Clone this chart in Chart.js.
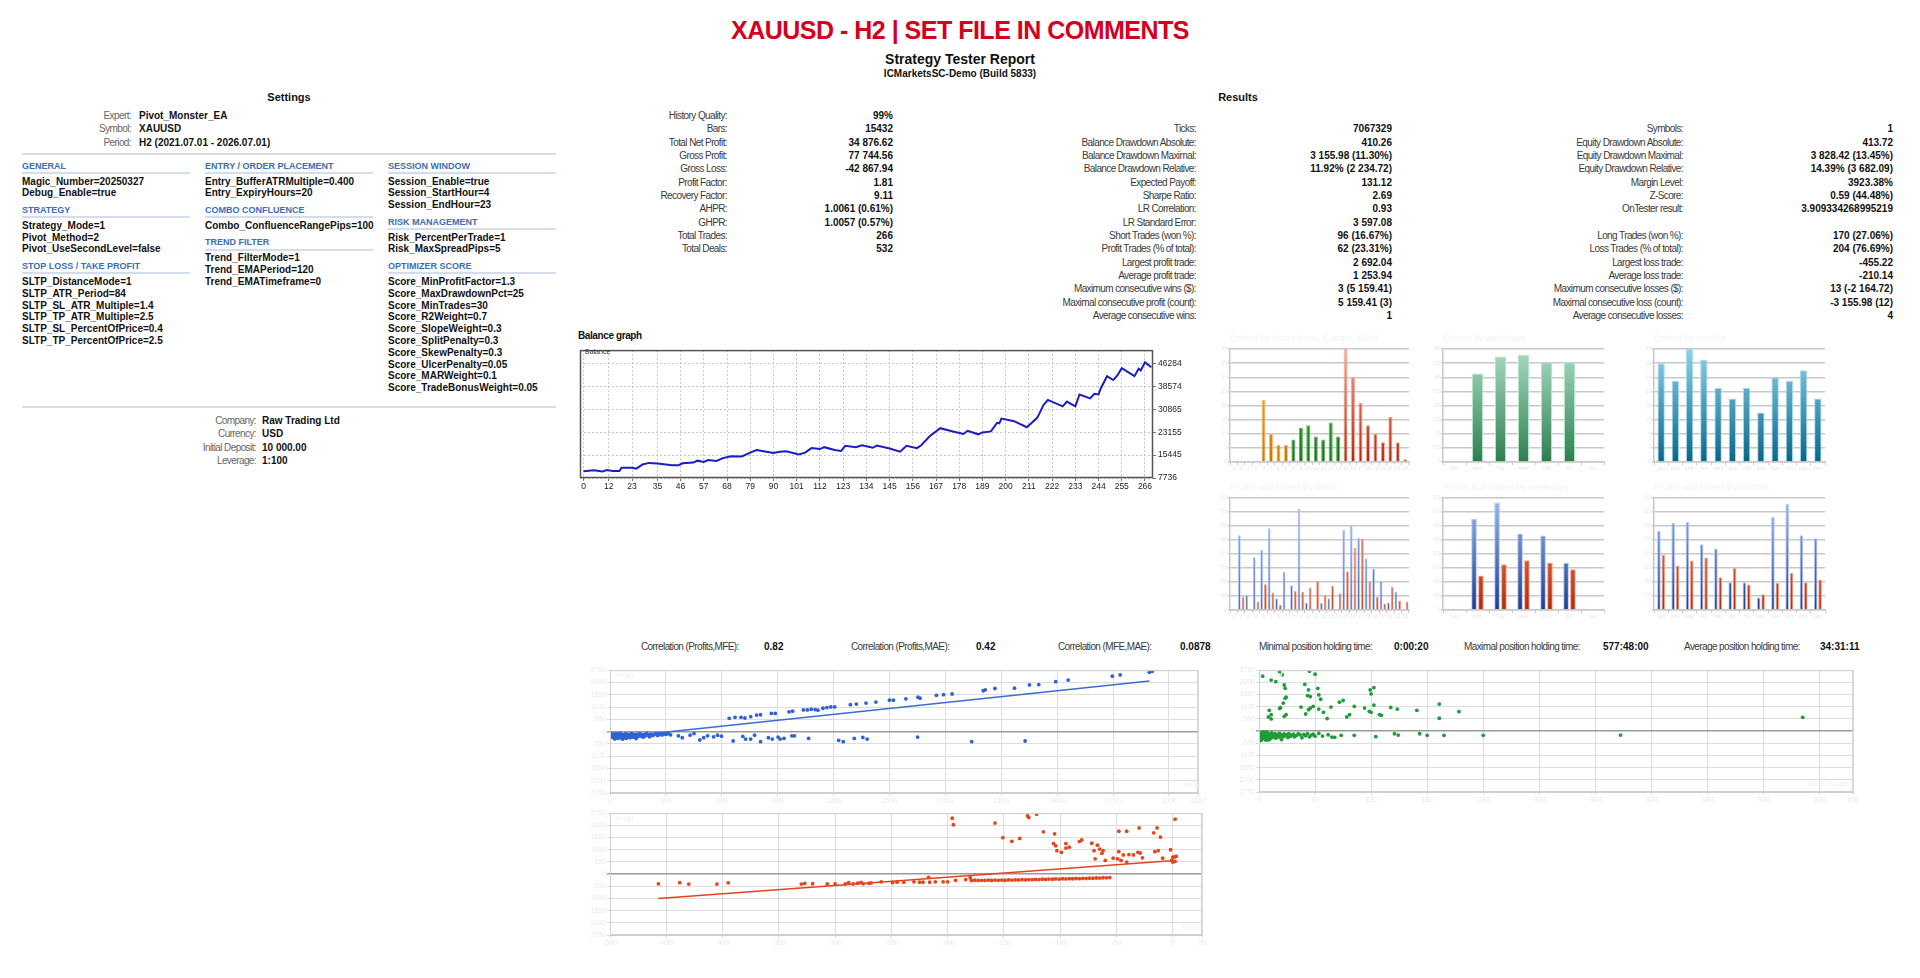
<!DOCTYPE html>
<html>
<head>
<meta charset="utf-8">
<title>Strategy Tester Report</title>
<script src="https://cdn.jsdelivr.net/npm/chart.js@4.4.1/dist/chart.umd.min.js"></script>
<style>
  html, body { margin: 0; padding: 0; background: #fff; }
  body { width: 1920px; height: 978px; position: relative; overflow: hidden;
         font-family: "Liberation Sans", Arial, sans-serif; }
  canvas { position: absolute; }
  .rule { position: absolute; height: 2px; }
</style>
</head>
<body>
<script>
// ---- report text ----
const expertRows = [['Expert:', 'Pivot_Monster_EA'], ['Symbol:', 'XAUUSD'], ['Period:', 'H2 (2021.07.01 - 2026.07.01)']];
const accountRows = [['Company:', 'Raw Trading Ltd'], ['Currency:', 'USD'], ['Initial Deposit:', '10 000.00'], ['Leverage:', '1:100']];

const settingsColumns = [
  [['GENERAL', ['Magic_Number=20250327', 'Debug_Enable=true']],
   ['STRATEGY', ['Strategy_Mode=1', 'Pivot_Method=2', 'Pivot_UseSecondLevel=false']],
   ['STOP LOSS / TAKE PROFIT', ['SLTP_DistanceMode=1', 'SLTP_ATR_Period=84', 'SLTP_SL_ATR_Multiple=1.4',
     'SLTP_TP_ATR_Multiple=2.5', 'SLTP_SL_PercentOfPrice=0.4', 'SLTP_TP_PercentOfPrice=2.5']]],
  [['ENTRY / ORDER PLACEMENT', ['Entry_BufferATRMultiple=0.400', 'Entry_ExpiryHours=20']],
   ['COMBO CONFLUENCE', ['Combo_ConfluenceRangePips=100']],
   ['TREND FILTER', ['Trend_FilterMode=1', 'Trend_EMAPeriod=120', 'Trend_EMATimeframe=0']]],
  [['SESSION WINDOW', ['Session_Enable=true', 'Session_StartHour=4', 'Session_EndHour=23']],
   ['RISK MANAGEMENT', ['Risk_PercentPerTrade=1', 'Risk_MaxSpreadPips=5']],
   ['OPTIMIZER SCORE', ['Score_MinProfitFactor=1.3', 'Score_MaxDrawdownPct=25', 'Score_MinTrades=30',
     'Score_R2Weight=0.7', 'Score_SlopeWeight=0.3', 'Score_SplitPenalty=0.3', 'Score_SkewPenalty=0.3',
     'Score_UlcerPenalty=0.05', 'Score_MARWeight=0.1', 'Score_TradeBonusWeight=0.05']]]
];

const resultsA = [['History Quality:', '99%'], ['Bars:', '15432'], ['Total Net Profit:', '34 876.62'],
  ['Gross Profit:', '77 744.56'], ['Gross Loss:', '-42 867.94'], ['Profit Factor:', '1.81'],
  ['Recovery Factor:', '9.11'], ['AHPR:', '1.0061 (0.61%)'], ['GHPR:', '1.0057 (0.57%)'],
  ['Total Trades:', '266'], ['Total Deals:', '532']];
const resultsB = [null, ['Ticks:', '7067329'], ['Balance Drawdown Absolute:', '410.26'],
  ['Balance Drawdown Maximal:', '3 155.98 (11.30%)'], ['Balance Drawdown Relative:', '11.92% (2 234.72)'],
  ['Expected Payoff:', '131.12'], ['Sharpe Ratio:', '2.69'], ['LR Correlation:', '0.93'],
  ['LR Standard Error:', '3 597.08'], ['Short Trades (won %):', '96 (16.67%)'],
  ['Profit Trades (% of total):', '62 (23.31%)'], ['Largest profit trade:', '2 692.04'],
  ['Average profit trade:', '1 253.94'], ['Maximum consecutive wins ($):', '3 (5 159.41)'],
  ['Maximal consecutive profit (count):', '5 159.41 (3)'], ['Average consecutive wins:', '1']];
const resultsC = [null, ['Symbols:', '1'], ['Equity Drawdown Absolute:', '413.72'],
  ['Equity Drawdown Maximal:', '3 828.42 (13.45%)'], ['Equity Drawdown Relative:', '14.39% (3 682.09)'],
  ['Margin Level:', '3923.38%'], ['Z-Score:', '0.59 (44.48%)'], ['OnTester result:', '3.909334268995219'],
  null, ['Long Trades (won %):', '170 (27.06%)'], ['Loss Trades (% of total):', '204 (76.69%)'],
  ['Largest loss trade:', '-455.22'], ['Average loss trade:', '-210.14'],
  ['Maximum consecutive losses ($):', '13 (-2 164.72)'], ['Maximal consecutive loss (count):', '-3 155.98 (12)'],
  ['Average consecutive losses:', '4']];

const correlationRow = [['Correlation (Profits,MFE):', '0.82'], ['Correlation (Profits,MAE):', '0.42'], ['Correlation (MFE,MAE):', '0.0878']];
const holdingRow = [['Minimal position holding time:', '0:00:20'], ['Maximal position holding time:', '577:48:00'], ['Average position holding time:', '34:31:11']];

// ---- balance graph ----
const balanceTrades = [0, 5, 9, 11, 14, 17, 18, 23, 25, 28, 31, 35, 42, 45, 47, 52, 54, 57, 59, 63,
  66, 70, 75, 79, 82, 84, 90, 93, 96, 102, 105, 108, 112, 114, 119, 122, 124, 129, 132, 137,
  139, 145, 150, 153, 158, 160, 164, 169, 175, 180, 182, 187, 189, 193, 196, 197, 198, 204, 210, 212,
  215, 218, 220, 227, 229, 233, 235, 240, 242, 244, 245, 248, 251, 253, 255, 261, 263, 264, 266, 269];
const balanceValues = [10000, 10335, 9902, 10444, 10119, 10119, 11202, 11202, 10877, 12285,
  12826, 12610, 12068, 12068, 12718, 12935, 13584, 13151, 13801, 13476,
  14451, 15100, 14992, 16292, 17158, 16941, 16183, 16617, 16725, 15642,
  16292, 17808, 17483, 18133, 17158, 16833, 18566, 18133, 18783, 17916,
  18674, 17700, 16617, 18566, 17808, 18783, 21815, 24523, 23440, 22573,
  23656, 22465, 23115, 23440, 26364, 26147, 27772, 26905, 24848, 26147,
  28097, 32429, 34053, 31887, 33511, 31887, 35894, 34594, 36111, 35894,
  37843, 42067, 40767, 42392, 44774, 42067, 44557, 44016, 46724, 45100];
const balanceXTicks = [0, 12, 23, 35, 46, 57, 68, 79, 90, 101, 112, 123, 134, 145, 156, 167, 178, 189, 200, 211, 222, 233, 244, 255, 266];
const balanceYTicks = [7736, 15445, 23155, 30865, 38574, 46284];

// ---- entries / profits distributions ----
const hourLabels = ['0', '1', '2', '3', '4', '5', '6', '7', '8', '9', '10', '11', '12', '13', '14', '15', '16', '17', '18', '19', '20', '21', '22', '23'];
const weekdayLabels = ['Sun', 'Mon', 'Tue', 'Wed', 'Thu', 'Fri', 'Sat'];
const monthLabels = ['Jan', 'Feb', 'Mar', 'Apr', 'May', 'Jun', 'Jul', 'Aug', 'Sep', 'Oct', 'Nov', 'Dec'];

const entriesByHour = [0, 0, 0, 0, 22, 10, 6, 6, 8, 12, 13, 9, 8, 14, 9, 40, 30, 21, 13, 10, 7, 16, 7, 1];
const entriesByWeekday = [0, 47, 56, 57, 53, 53, 0];
const entriesByMonth = [28, 23, 32, 29, 21, 18, 21, 14, 24, 23, 26, 18];

const profitByHour = [0, 6680, 1330, 4710, 5380, 7310, 1040, 3410, 2200, 9050, 630, 0, 630, 1040, 0, 7160, 7580, 6450, 4630, 3680, 2600, 660, 1610, 0];
const lossByHour = [0, 1190, 0, 750, 2290, 1560, 440, 110, 1700, 1610, 2000, 2600, 1330, 2160, 1500, 3460, 5550, 6390, 2540, 1190, 580, 2080, 840, 750];
const profitByWeekday = [0, 16300, 19200, 13650, 13300, 8450, 0];
const lossByWeekday = [0, 6180, 8150, 8900, 8500, 7280, 0];
const profitByMonth = [7755, 8553, 8676, 6449, 6036, 2736, 2736, 1238, 9158, 10464, 7343, 7054];
const lossByMonth = [5404, 4359, 4868, 5156, 3218, 4125, 2516, 1554, 2640, 3658, 2736, 2984];

// ---- scatter: profit vs MFE ----
const mfeWinners = [[640, 595], [671, 639], [703, 639], [724, 609], [755, 668], [787, 740], [808, 755], [866, 813],
  [887, 813], [961, 885], [980, 914], [1038, 972], [1059, 972], [1080, 1001], [1101, 987], [1116, 958],
  [1143, 1045], [1164, 1074], [1185, 1103], [1206, 1103], [1290, 1204], [1322, 1234], [1374, 1277],
  [1427, 1321], [1500, 1408], [1521, 1408], [1588, 1466], [1653, 1538], [1664, 1495], [1752, 1625],
  [1790, 1654], [1836, 1683], [2003, 1829], [2014, 1872], [2066, 1930], [2171, 1945], [2251, 2090],
  [2301, 2104], [2392, 2235], [2459, 2307], [2696, 2481], [2738, 2540], [2895, 2656], [2910, 2699]];
const mfeLosers = [[5, -210], [8, -150], [12, -95], [15, -260], [18, -180], [22, -120], [25, -330], [28, -210],
  [32, -90], [35, -160], [38, -240], [42, -300], [45, -130], [48, -200], [52, -80], [55, -270], [58, -170],
  [62, -220], [65, -110], [68, -340], [72, -190], [75, -250], [78, -140], [82, -210], [85, -90], [88, -300],
  [92, -170], [95, -230], [100, -120], [104, -200], [108, -280], [112, -150], [116, -90], [120, -210],
  [125, -250], [130, -130], [135, -180], [140, -310], [145, -110], [150, -220], [155, -160], [160, -90],
  [165, -200], [172, -140], [178, -250], [185, -120], [190, -190], [198, -80], [205, -160], [212, -230],
  [220, -110], [228, -180], [235, -140], [245, -100], [255, -170], [262, -90], [270, -130], [280, -150],
  [290, -100], [300, -120], [312, -95], [325, -145], [367, -189], [388, -276], [430, -160], [451, -87],
  [482, -377], [503, -276], [524, -189], [556, -232], [577, -160], [598, -203], [661, -421], [713, -218],
  [728, -334], [755, -334], [776, -160], [808, -450], [850, -276], [871, -334], [902, -247], [913, -334],
  [934, -305], [976, -189], [990, -189], [1066, -305], [1227, -392], [1252, -450], [1311, -305],
  [1357, -261], [1380, -334], [1651, -247], [1941, -450], [2228, -421]];
const mfeTrend = [[0, -290], [2895, 2264]];

// ---- scatter: profit vs MAE ----
const maeWinners = [[-196, 2523], [-195, 2229], [-158, 2303], [-151, 1643], [-143, 1481], [-136, 1613],
  [-129, 2640], [-128, 2552], [-121, 2699], [-115, 1907], [-105, 1819], [-106, 1379], [-104, 1276],
  [-103, 1056], [-99, 983], [-95, 1379], [-95, 1173], [-92, 1217], [-83, 1467], [-81, 1540], [-72, 1393],
  [-70, 1056], [-69, 689], [-67, 1305], [-65, 1129], [-63, 939], [-62, 1056], [-60, 616], [-53, 719],
  [-49, 689], [-48, 1936], [-48, 1012], [-46, 616], [-44, 865], [-41, 1936], [-41, 543], [-39, 880],
  [-35, 865], [-31, 983], [-30, 2083], [-29, 953], [-27, 733], [-17, 1863], [-16, 1012], [-14, 2083],
  [-13, 1056], [-11, 1672], [-9, 719], [-2, 1100], [-1, 616], [0, 763], [0, 543], [1, 763], [2, 2479],
  [2, 572], [3, 807]];
const maeLosers = [[-457, -440], [-438, -385], [-430, -450], [-405, -450], [-395, -395], [-330, -450],
  [-327, -420], [-320, -435], [-307, -445], [-300, -440], [-291, -445], [-288, -385], [-284, -445],
  [-280, -410], [-277, -370], [-275, -440], [-270, -415], [-268, -395], [-259, -350], [-249, -380],
  [-245, -365], [-239, -365], [-230, -350], [-225, -365], [-222, -365], [-217, -147], [-216, -365],
  [-211, -350], [-204, -350], [-200, -350], [-193, -279], [-184, -249], [-180, -161],
  [-179, -290], [-176, -275], [-173, -290], [-170, -280], [-167, -285], [-164, -275], [-161, -285],
  [-158, -270], [-155, -280], [-152, -270], [-149, -278], [-146, -262], [-143, -270], [-140, -258],
  [-137, -265], [-134, -250], [-131, -258], [-128, -245], [-125, -252], [-122, -240], [-119, -246],
  [-116, -232], [-113, -240], [-110, -225], [-107, -232], [-104, -218], [-101, -225], [-98, -210],
  [-95, -218], [-92, -205], [-89, -210], [-86, -198], [-83, -205], [-80, -190], [-77, -196], [-74, -182],
  [-71, -188], [-68, -175], [-65, -180], [-62, -165], [-59, -170], [-56, -158]];
const maeTrend = [[-457, -1100], [1, 616]];

// ---- scatter: profit vs holding time ----
const holdWinners = [[4, 2482], [13, 2304], [22, 2676], [25, 2542], [18, 2230], [27, 2081], [28, 1932],
  [11, 936], [13, 743], [10, 639], [13, 550], [22, 1026], [23, 1055], [26, 1264], [28, 1486], [29, 1531],
  [27, 669], [29, 743], [45, 1085], [49, 2111], [53, 1858], [52, 1605], [55, 1561], [54, 2705], [60, 2572],
  [50, 773], [53, 966], [55, 1041], [58, 1115], [63, 1932], [64, 1635], [66, 1442], [64, 996], [69, 847],
  [73, 565], [77, 1085], [86, 1308], [90, 1382], [94, 639], [97, 743], [102, 1115], [113, 1041], [118, 892],
  [119, 1858], [120, 1680], [123, 1962], [123, 1174], [120, 847], [129, 743], [131, 714], [141, 1070],
  [148, 996], [169, 936], [193, 1219], [193, 580], [214, 877], [582, 624]];
const holdLosers = [[0.5, -220], [1, -150], [1.5, -300], [2, -90], [2.5, -380], [3, -180], [3.5, -250],
  [4, -120], [4.5, -330], [5, -200], [5.5, -60], [6, -280], [7, -160], [7.5, -410], [8, -230], [9, -100],
  [9.5, -310], [10, -190], [11, -260], [11.5, -140], [12, -350], [13, -210], [13.5, -80], [14, -290],
  [15, -170], [16, -240], [17, -120], [18, -320], [19, -200], [20, -150], [21, -270], [22, -100],
  [23, -220], [24, -380], [25, -170], [26, -250], [27, -130], [28, -200], [30, -160], [31, -290],
  [32, -110], [34, -230], [35, -180], [37, -140], [38, -260], [40, -200], [42, -120], [44, -170],
  [46, -300], [48, -150], [50, -210], [52, -110], [54, -260], [56, -180], [58, -140], [60, -230],
  [0.3, -440], [2.2, -420], [6.5, -360], [10.5, -400], [3.2, -50], [8.5, -40],
  [64, -104], [68, -223], [74, -164], [78, -268], [81, -282], [88, -193], [102, -193], [125, -253],
  [145, -119], [149, -178], [172, -119], [180, -193], [198, -193], [240, -193], [387, -178]];

// ---- helpers ----
function T(x, y, s, o = {}) {
  const d = document.createElement('div');
  d.textContent = s;
  const size = o.size || 10, lh = o.lh || Math.round(size * 1.2);
  Object.assign(d.style, {
    position: 'absolute', whiteSpace: 'nowrap', fontSize: size + 'px', lineHeight: lh + 'px',
    top: (y - lh / 2) + 'px', fontWeight: o.bold ? 'bold' : 'normal', color: o.color || '#111',
    letterSpacing: (o.ls || 0) + 'px'
  });
  if (o.align === 'right') d.style.right = (1920 - x) + 'px';
  else if (o.align === 'center') { d.style.left = (x - 400) + 'px'; d.style.width = '800px'; d.style.textAlign = 'center'; }
  else d.style.left = x + 'px';
  document.body.appendChild(d);
}
const LBL = { color: '#3a3a3a', ls: -0.6 };
const VAL = { bold: true, color: '#111' };

function rule(x, y, w, color) {
  const r = document.createElement('div');
  r.className = 'rule';
  Object.assign(r.style, { left: x + 'px', top: y + 'px', width: w + 'px', background: color });
  document.body.appendChild(r);
}

function canvasAt(plot, pad) {
  const c = document.createElement('canvas');
  const w = plot.w + pad.l + pad.r, h = plot.h + pad.t + pad.b;
  c.width = w; c.height = h;
  Object.assign(c.style, { left: (plot.x - pad.l) + 'px', top: (plot.y - pad.t) + 'px', width: w + 'px', height: h + 'px' });
  document.body.appendChild(c);
  return c;
}

const frame = {
  id: 'frame',
  afterDraw(chart, args, opts) {
    const a = chart.chartArea, g = chart.ctx;
    g.save();
    g.strokeStyle = opts.color; g.lineWidth = opts.width;
    g.strokeRect(a.left + 0.5, a.top + 0.5, a.right - a.left - 1, a.bottom - a.top - 1);
    g.restore();
  }
};

function vgrad(top, bottom) {
  return (ctx) => {
    const a = ctx.chart.chartArea;
    if (!a) return bottom;
    const g = ctx.chart.ctx.createLinearGradient(0, a.top, 0, a.bottom);
    g.addColorStop(0, top); g.addColorStop(1, bottom);
    return g;
  };
}

Chart.defaults.font.family = '"Liberation Sans", Arial, sans-serif';

// left/bottom space is taken by the axes, top/right by padding
function baseOptions(pad, frameColor) {
  return {
    responsive: false, animation: false, devicePixelRatio: 1, events: [],
    layout: { autoPadding: false, padding: { left: 0, top: pad.t, right: pad.r, bottom: 0 } },
    plugins: { legend: { display: false }, tooltip: { enabled: false }, frame: { color: frameColor, width: 1 } }
  };
}

// ---- headings ----
T(960, 30, 'XAUUSD - H2 | SET FILE IN COMMENTS', { size: 25, bold: true, color: '#d6001c', ls: -0.5, align: 'center', lh: 30 });
T(960, 59, 'Strategy Tester Report', { size: 14, bold: true, align: 'center', lh: 16 });
T(960, 74, 'ICMarketsSC-Demo (Build 5833)', { size: 10, bold: true, align: 'center' });
T(289, 97, 'Settings', { size: 11, bold: true, align: 'center' });
T(1238, 97, 'Results', { size: 11, bold: true, align: 'center' });

// ---- settings block ----
expertRows.forEach((r, i) => {
  T(131, 116 + i * 13.4, r[0], Object.assign({ align: 'right' }, LBL, { color: '#666' }));
  T(139, 116 + i * 13.4, r[1], VAL);
});
rule(22, 153, 534, '#dcdcdc');
const colX = [22, 205, 388];
settingsColumns.forEach((col, ci) => {
  let y = 166;
  col.forEach((grp, gi) => {
    if (gi > 0) y += 17;
    T(colX[ci], y, grp[0], { size: 9, bold: true, color: '#3b6db5' });
    rule(colX[ci], y + 6, 168, '#d3dded');
    y += 15.5;
    grp[1].forEach((line, li) => {
      if (li > 0) y += 11.8;
      T(colX[ci], y, line, VAL);
    });
  });
});
rule(22, 406, 534, '#dcdcdc');
accountRows.forEach((r, i) => {
  T(256, 421 + i * 13.4, r[0], Object.assign({ align: 'right' }, LBL, { color: '#666' }));
  T(262, 421 + i * 13.4, r[1], VAL);
});

// ---- results block ----
[[resultsA, 727, 893], [resultsB, 1196, 1392], [resultsC, 1683, 1893]].forEach(([rows, lx, vx]) => {
  rows.forEach((r, i) => {
    if (!r) return;
    const y = 116 + i * 13.33;
    T(lx, y, r[0], Object.assign({ align: 'right' }, LBL));
    T(vx, y, r[1], Object.assign({ align: 'right' }, VAL));
  });
});

// ---- balance graph ----
T(578, 336, 'Balance graph', { size: 10, bold: true, ls: -0.4 });
{
  const plot = { x: 580, y: 346, w: 573, h: 132 }, pad = { l: 3, t: 3, r: 42, b: 16 };
  const opts = baseOptions(pad, '#555');
  opts.layout.padding.left = pad.l;
  opts.layout.padding.right = 0;   // right side is the y axis here
  opts.plugins.frame.width = 1.5;
  opts.scales = {
    x: {
      type: 'linear', min: -1.66, max: 269.8,
      afterBuildTicks: s => { s.ticks = balanceXTicks.map(v => ({ value: v })); },
      afterFit: s => { s.height = pad.b; },
      ticks: { color: '#222', font: { size: 8.5 }, maxRotation: 0, autoSkip: false, padding: 1, callback: v => String(v) },
      grid: { color: '#c6c6c6', tickLength: 3, tickColor: '#777' },
      border: { display: false, dash: [2, 2] }
    },
    y: {
      position: 'right', min: 7736, max: 50860,
      afterBuildTicks: s => { s.ticks = balanceYTicks.map(v => ({ value: v })); },
      afterFit: s => { s.width = pad.r; },
      ticks: { color: '#222', font: { size: 8.5 }, padding: 2, callback: v => String(v) },
      grid: { color: '#c6c6c6', tickLength: 3, tickColor: '#777' },
      border: { display: false, dash: [2, 2] }
    }
  };
  new Chart(canvasAt(plot, pad), {
    type: 'line',
    data: { datasets: [{ data: balanceTrades.map((t, i) => ({ x: t, y: balanceValues[i] })), borderColor: '#1c1cc0', borderWidth: 2, pointRadius: 0, tension: 0 }] },
    options: opts, plugins: [frame]
  });
  T(585, 352, 'Balance', { size: 7, color: '#333' });
}

// ---- small bar charts ----
function barChart(plot, labels, datasets, max, step, title) {
  const pad = { l: 10, t: 1, r: 2, b: 8 };
  const opts = baseOptions(pad, 'rgba(0,0,0,0)');
  opts.scales = {
    x: {
      afterFit: s => { s.height = pad.b; },
      ticks: { color: '#e6e6e6', font: { size: 5 }, maxRotation: 0, autoSkip: false, padding: 1 },
      grid: { display: true, drawOnChartArea: false, tickLength: 3, color: '#c8c8c8' },
      border: { color: '#c8c8c8', width: 1.5 }
    },
    y: {
      min: 0, max: max,
      afterFit: s => { s.width = pad.l; },
      ticks: { stepSize: step, color: '#e6e6e6', font: { size: 5 }, padding: 1 },
      grid: { color: '#c8c8c8', lineWidth: 1.5, tickLength: 2 },
      border: { color: '#c8c8c8', width: 1.5 }
    }
  };
  new Chart(canvasAt(plot, pad), { type: 'bar', data: { labels: labels, datasets: datasets }, options: opts });
  T(plot.x, plot.y - 8, title, { size: 9, color: '#f3f3f3' });
}

const hourTop = { asia: '#f6c36a', europe: '#5cb85c', usa: '#f2ab96' };
const hourBottom = { asia: '#c87608', europe: '#18701a', usa: '#b3260c' };
const sessionOf = i => (i < 8 ? 'asia' : i < 15 ? 'europe' : 'usa');
barChart({ x: 1230, y: 346, w: 179, h: 116 }, hourLabels, [{
  data: entriesByHour,
  backgroundColor: ctx => vgrad(hourTop[sessionOf(ctx.dataIndex)], hourBottom[sessionOf(ctx.dataIndex)])(ctx),
  borderColor: ctx => hourTop[sessionOf(ctx.dataIndex)], borderWidth: 1,
  barPercentage: 0.55, categoryPercentage: 1
}], 40, 5, 'Entries by hours (Asia, Europe, USA)');

barChart({ x: 1443, y: 346, w: 161, h: 116 }, weekdayLabels, [{
  data: entriesByWeekday, backgroundColor: vgrad('#a9dcc2', '#2d7f4f'), borderColor: '#b5e4cc', borderWidth: 1,
  barPercentage: 0.48, categoryPercentage: 1
}], 60, 7.5, 'Entries by weekdays');

barChart({ x: 1654, y: 346, w: 171, h: 116 }, monthLabels, [{
  data: entriesByMonth, backgroundColor: vgrad('#8ed2ea', '#0a6688'), borderColor: '#a6dcef', borderWidth: 1,
  barPercentage: 0.52, categoryPercentage: 1
}], 32, 4, 'Entries by months');

const plBlue = ['#9bb9ee', '#1c3d8e', '#b3c9f2'];
const plRed = ['#f28f70', '#b32a08', '#f4a48a'];
function plSets(profit, loss, bp, cp) {
  return [
    { data: profit, backgroundColor: vgrad(plBlue[0], plBlue[1]), borderColor: plBlue[2], borderWidth: 1, barPercentage: bp, categoryPercentage: cp },
    { data: loss, backgroundColor: vgrad(plRed[0], plRed[1]), borderColor: plRed[2], borderWidth: 1, barPercentage: bp, categoryPercentage: cp }
  ];
}
barChart({ x: 1230, y: 495, w: 179, h: 115 }, hourLabels, plSets(profitByHour, lossByHour, 0.75, 1), 10000, 1250, 'Profits and losses by hours');
barChart({ x: 1443, y: 495, w: 161, h: 115 }, weekdayLabels, plSets(profitByWeekday, lossByWeekday, 0.82, 0.6), 20000, 2500, 'Profits and losses by weekdays');
barChart({ x: 1654, y: 495, w: 171, h: 115 }, monthLabels, plSets(profitByMonth, lossByMonth, 0.82, 0.62), 11000, 1375, 'Profits and losses by months');

// ---- scatter charts ----
function scatterChart(plot, xr, sets, xName) {
  const pad = { l: 20, t: 2, r: 2, b: 10 };
  const opts = baseOptions(pad, '#cfcfcf');
  const gridColor = ctx => (ctx.tick && ctx.tick.value === 0 ? '#9a9a9a' : '#dddddd');
  opts.scales = {
    x: {
      type: 'linear', min: xr[0], max: xr[1],
      afterFit: s => { s.height = pad.b; },
      ticks: { stepSize: xr[2], color: '#e8e8e8', font: { size: 7 }, maxRotation: 0, padding: 1, callback: v => String(v) },
      grid: { color: '#dddddd', tickLength: 3 },
      border: { color: '#cfcfcf' }
    },
    y: {
      min: -2750, max: 2750,
      afterFit: s => { s.width = pad.l; },
      ticks: { stepSize: 550, color: '#e8e8e8', font: { size: 7 }, padding: 1, callback: v => String(v) },
      grid: { color: gridColor, lineWidth: ctx => (ctx.tick && ctx.tick.value === 0 ? 1.5 : 1), tickLength: 3 },
      border: { color: '#cfcfcf' }
    }
  };
  new Chart(canvasAt(plot, pad), { type: 'scatter', data: { datasets: sets }, options: opts, plugins: [frame] });
  T(plot.x + 5, plot.y + 9, 'Profit', { size: 8, color: '#efefef' });
  T(plot.x + plot.w - 5, plot.y + plot.h - 8, xName, { size: 8, color: '#efefef', align: 'right' });
}
function dots(pts, color) {
  return { type: 'scatter', data: pts.map(p => ({ x: p[0], y: p[1] })), backgroundColor: color, borderWidth: 0, pointRadius: 1.9 };
}
function trend(pts, color) {
  return { type: 'line', data: pts.map(p => ({ x: p[0], y: p[1] })), borderColor: color, borderWidth: 1.6, pointRadius: 0, showLine: true, order: 2 };
}

correlationRow.forEach((r, i) => {
  const lx = [641, 851, 1058][i], vx = [764, 976, 1180][i];
  T(lx, 647, r[0], LBL);
  T(vx, 647, r[1], VAL);
});
holdingRow.forEach((r, i) => {
  const lx = [1259, 1464, 1684][i], vx = [1394, 1603, 1820][i];
  T(lx, 647, r[0], LBL);
  T(vx, 647, r[1], VAL);
});

scatterChart({ x: 610, y: 667, w: 595, h: 126 }, [0, 3157, 300],
  [trend(mfeTrend, '#3b6bd6'), dots(mfeWinners, '#2f62d2'), dots(mfeLosers, '#2f62d2')], 'MFE');
scatterChart({ x: 610, y: 810, w: 595, h: 125 }, [-500, 26, 50],
  [trend(maeTrend, '#e3431c'), dots(maeWinners, '#e5451c'), dots(maeLosers, '#e5451c')], 'MAE');
scatterChart({ x: 1259, y: 667, w: 599, h: 125 }, [0, 636, 60],
  [dots(holdWinners, '#1f9c38'), dots(holdLosers, '#1f9c38')], 'Time (hours)');
</script>
</body>
</html>
